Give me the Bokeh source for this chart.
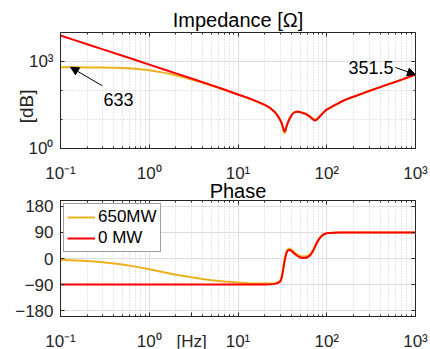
from bokeh.plotting import figure
from bokeh.models import (Range1d, FixedTicker, LogAxis, LinearAxis, Label, Arrow,
                          NormalHead, Legend, LegendItem, CustomJSTickFormatter)
from bokeh.layouts import column
from bokeh.embed import file_html
from bokeh.resources import INLINE

FONT = "Liberation Sans"

# ---------------- data ----------------
freq = [0.1, 0.15, 0.2, 0.3, 0.5, 0.7, 1, 1.5, 2, 3, 4, 5, 7, 10, 13, 16, 20, 23, 26, 28,
        30, 31, 32, 32.7, 33.4, 34.2, 35, 36, 37.3, 38.5, 40.7, 43, 46.4, 49.5, 52.8, 55.5,
        58.6, 62, 65.6, 70, 73.5, 77, 81, 85, 90, 97, 106, 120, 140, 163, 200, 250, 300,
        400, 500, 600, 700, 800, 900, 1000]

zmag_0mw = [7900, 5250, 3930, 2620, 1570, 1120, 780, 520, 390, 258, 193, 153, 108, 73, 55, 43,
            32, 25, 18, 13.5, 9.5, 7.6, 5.6, 4.4, 3.8, 4.2, 5.5, 7.2, 9.2, 11.3, 15, 17.6,
            18.7, 18.2, 17, 16.2, 15.3, 13.6, 11.9, 10, 9.2, 9.7, 11.5, 13.6, 16.3, 20.5,
            24.3, 30, 38.5, 48.3, 61, 78, 96, 131, 166, 201, 237, 274, 312, 351.5]

zmag_650mw = [632, 630, 626, 617, 592, 558, 502, 405, 335, 240, 185, 149, 106, 72, 54.5, 42.7,
              31.8, 24.8, 17.8, 13.3, 9.2, 7.3, 5.2, 3.9, 3.3, 3.8, 5.2, 7.0, 9.1, 11.3, 15,
              17.6, 18.8, 18.4, 17.3, 16.5, 15.7, 14.1, 12.5, 10.8, 10.1, 10.4, 11.9, 13.8,
              16.4, 20.5, 24.3, 30, 38.5, 48.3, 61, 78, 96, 131, 166, 201, 237, 274, 312, 351.5]

phase_0mw = [-90, -90, -90, -90, -90, -90, -90, -90, -90, -90, -90, -90, -90, -90, -90, -89.8,
             -89.6, -89, -87.5, -85, -79, -68, -46, -28, -11, 4, 17, 25, 29, 29, 24, 17, 9.5,
             4.5, 2, 1.5, 2.5, 6, 12, 25, 39, 53, 64, 73, 81, 86, 88.3, 89, 89.3, 89.5, 89.5,
             89.5, 89.5, 89.5, 89.5, 89.5, 89.5, 89.5, 89.5, 89.5]

phase_650mw = [-4.5, -6.5, -9, -13, -21, -28, -37, -48, -56, -65, -71, -75, -79.5, -83, -85,
               -86, -86.5, -86.5, -85, -82.5, -76, -64, -41, -22, -5, 10, 22, 30, 34, 34, 29,
               22, 14.5, 9.5, 7, 6.5, 7.5, 11, 16, 29, 42, 56, 67, 75, 82, 86.5, 88.3, 89,
               89.3, 89.5, 89.5, 89.5, 89.5, 89.5, 89.5, 89.5, 89.5, 89.5, 89.5, 89.5]

series_labels = ["650MW", "0 MW"]
x_ticks = [0.1, 1.0, 10.0, 100.0, 1000.0]
x_tick_labels = ["10\u207b\u00b9", "10\u2070", "10\u00b9", "10\u00b2", "10\u00b3"]
x_minor = [m * 10.0 ** e for e in range(-1, 3) for m in range(2, 10)]
hz_tick = 3.0
hz_label = "[Hz]"
mag_ticks = [1.0, 1000.0]
mag_tick_labels = ["10\u2070", "10\u00b3"]
mag_minor = [10.0, 100.0]
phase_ticks = [-180, -90, 0, 90, 180]

ORANGE = "#EDB120"
RED = "#FF0000"
AX = "#262626"
NB = "\u00a0"


def blank_axis(ax):
    ax.formatter = CustomJSTickFormatter(code="return ''")
    ax.major_label_text_font_size = "1px"
    ax.major_label_standoff = 0
    ax.axis_line_color = None
    ax.major_tick_in = 4
    ax.major_tick_out = 0
    ax.minor_tick_in = 2
    ax.minor_tick_out = 0
    ax.major_tick_line_color = AX
    ax.minor_tick_line_color = AX


def style_axis(ax, standoff):
    ax.major_label_text_font = FONT
    ax.major_label_text_font_size = "17px"
    ax.major_label_text_color = AX
    ax.major_label_standoff = standoff
    ax.axis_line_color = AX
    ax.major_tick_line_color = AX
    ax.minor_tick_line_color = AX
    ax.major_tick_in = 4
    ax.major_tick_out = 0
    ax.minor_tick_in = 2
    ax.minor_tick_out = 0


def style_grid(g):
    g.grid_line_color = "#dedede"
    g.minor_grid_line_color = "#cccccc"
    g.minor_grid_line_dash = "1 2"


def make_fig(title, y_type, y_range, mb_top, mb_bottom, title_offset, title_standoff,
             with_hz=False):
    p = figure(x_axis_type="log", y_axis_type=y_type,
               x_range=Range1d(0.1, 1000), y_range=y_range,
               frame_width=355, frame_height=116,
               min_border_left=60, min_border_right=15,
               min_border_top=mb_top, min_border_bottom=mb_bottom,
               output_backend="svg", toolbar_location=None, title=title,
               background_fill_color="white")
    p.title.text_font = FONT
    p.title.text_font_size = "20px"
    p.title.text_font_style = "normal"
    p.title.text_color = "black"
    p.title.align = "center"
    p.title.offset = title_offset
    try:
        p.title.standoff = title_standoff
    except Exception:
        p.title.standoff = 0
    p.outline_line_color = AX
    p.outline_line_width = 1
    grid_ticker = FixedTicker(ticks=x_ticks, minor_ticks=x_minor)
    if with_hz:
        axis_ticker = FixedTicker(ticks=x_ticks[:2] + [hz_tick] + x_ticks[2:],
                                  minor_ticks=x_minor)
        overrides = dict(zip(x_ticks, x_tick_labels))
        overrides[hz_tick] = hz_label
    else:
        axis_ticker = grid_ticker
        overrides = dict(zip(x_ticks, x_tick_labels))
    p.xaxis.ticker = axis_ticker
    p.xaxis.major_label_overrides = overrides
    p.xgrid.ticker = grid_ticker
    style_axis(p.xaxis[0], 15)
    top = LogAxis(ticker=grid_ticker)
    blank_axis(top)
    p.add_layout(top, "above")
    style_grid(p.xgrid[0])
    style_grid(p.ygrid[0])
    return p


# ---------------- magnitude ----------------
p1 = make_fig("Impedance [\u03a9]", "log", Range1d(1, 10000), 32, 35, 2.5, 3)
p1.border_fill_color = "white"
yt1 = FixedTicker(ticks=mag_ticks, minor_ticks=mag_minor)
p1.yaxis.ticker = yt1
p1.yaxis.major_label_overrides = dict(zip(mag_ticks, mag_tick_labels))
style_axis(p1.yaxis[0], 7)
p1.yaxis.axis_label = "[dB]" + NB * 6
p1.yaxis.axis_label_text_font = FONT
p1.yaxis.axis_label_text_font_size = "19px"
p1.yaxis.axis_label_text_font_style = "normal"
p1.yaxis.axis_label_text_color = AX
p1.yaxis.axis_label_standoff = -11
r1 = LogAxis(ticker=yt1)
blank_axis(r1)
p1.add_layout(r1, "right")

p1.line(freq, zmag_650mw, line_color=ORANGE, line_width=2)
p1.line(freq, zmag_0mw, line_color=RED, line_width=2)

p1.add_layout(Arrow(end=NormalHead(size=8, fill_color="black", line_color="black"),
                    x_start=0.295, y_start=146, x_end=0.13, y_end=633,
                    line_color="black", line_width=1))
p1.add_layout(Label(x=43, y=49, x_units="screen", y_units="screen", text="633",
                    text_font=FONT, text_font_size="18px", text_align="left",
                    text_baseline="alphabetic", text_color="black"))
p1.add_layout(Arrow(end=NormalHead(size=8, fill_color="black", line_color="black"),
                    x_start=596, y_start=622, x_end=1000, y_end=351.5,
                    line_color="black", line_width=1))
p1.add_layout(Label(x=333, y=81, x_units="screen", y_units="screen", text="351.5",
                    text_font=FONT, text_font_size="18px", text_align="right",
                    text_baseline="alphabetic", text_color="black"))

# ---------------- phase ----------------
p2 = make_fig("Phase", "linear", Range1d(-200, 200), 26, 35, 8, -3, with_hz=True)
p2.border_fill_color = None
p2.border_fill_alpha = 0
p2.margin = (-11, 0, 0, 0)
yt2 = FixedTicker(ticks=phase_ticks)
p2.yaxis.ticker = yt2
style_axis(p2.yaxis[0], 7)
r2 = LinearAxis(ticker=yt2)
blank_axis(r2)
p2.add_layout(r2, "right")

ro = p2.line(freq, phase_650mw, line_color=ORANGE, line_width=2)
rr = p2.line(freq, phase_0mw, line_color=RED, line_width=2)

legend = Legend(items=[LegendItem(label=series_labels[0], renderers=[ro]),
                       LegendItem(label=series_labels[1], renderers=[rr])],
                location="top_left", margin=3, padding=3, spacing=1,
                glyph_width=28, glyph_height=20, label_height=20, label_standoff=3,
                label_text_font=FONT, label_text_font_size="17px", label_text_color="black",
                border_line_color="#404040", border_line_width=1,
                background_fill_color="white", background_fill_alpha=1)
p2.add_layout(legend)

layout = column(p1, p2, spacing=0)
open("out.html", "w").write(file_html(layout, INLINE))
